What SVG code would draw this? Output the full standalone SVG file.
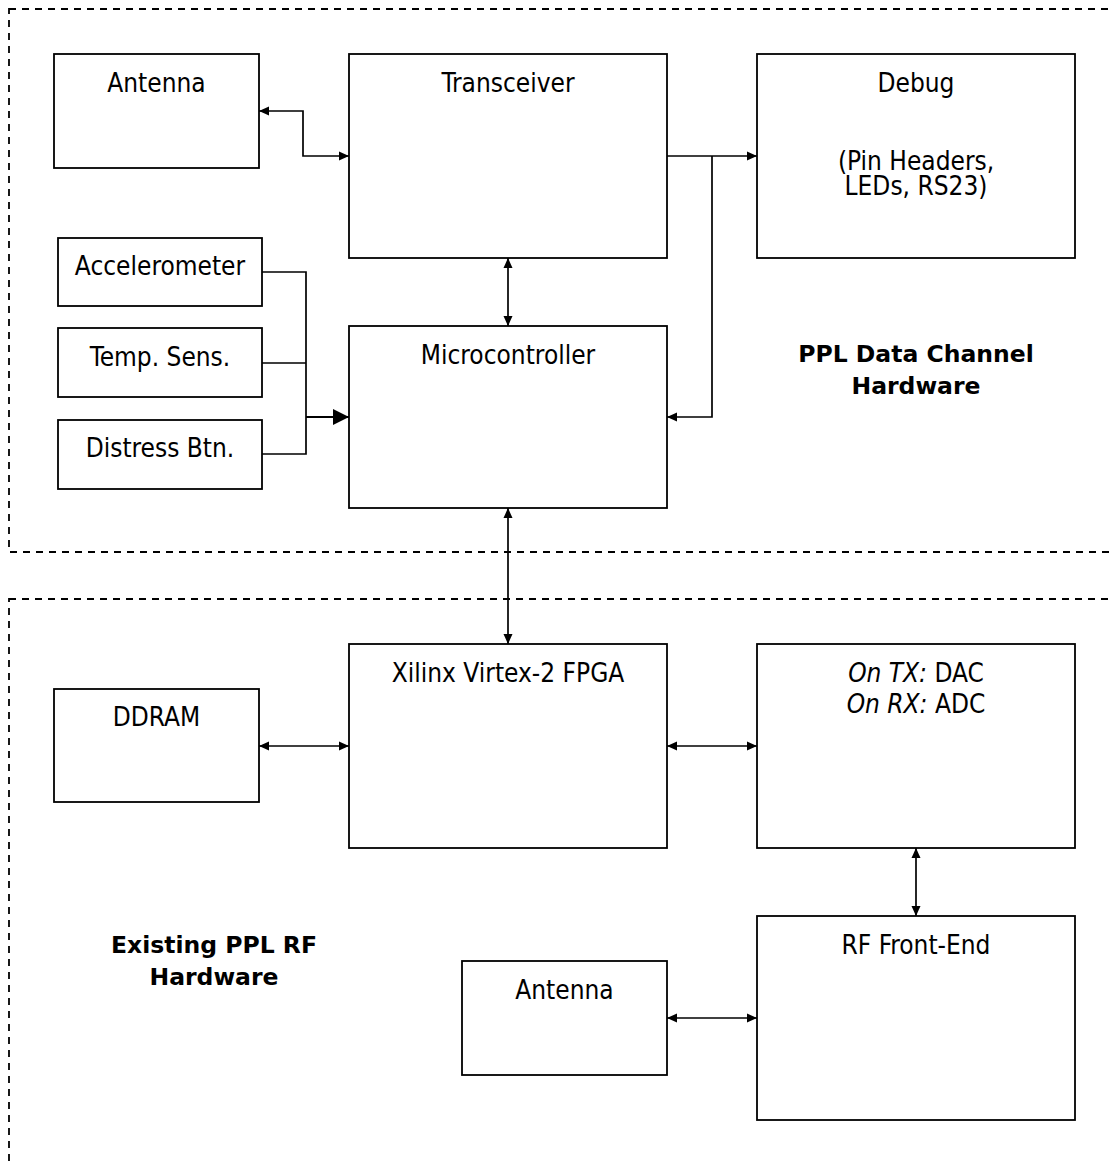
<svg xmlns="http://www.w3.org/2000/svg" width="1112" height="1162" viewBox="0 0 1112 1162">
  <style>
    .box { fill: #ffffff; stroke: #000000; stroke-width: 1.8; }
    .region { fill: none; stroke: #000000; stroke-width: 1.8; stroke-dasharray: 7 6; }
    .wire { fill: none; stroke: #000000; stroke-width: 1.7; }
    .wire-bold { fill: none; stroke: #000000; stroke-width: 2.2; }
    .lbl { font-family: "DejaVu Sans Condensed", "DejaVu Sans", sans-serif; font-stretch: condensed; font-size: 26px; fill: #000000; text-anchor: middle; }
    .title { font-family: "DejaVu Sans", "Liberation Sans", sans-serif; font-weight: bold; font-size: 23.5px; fill: #000000; text-anchor: middle; }
    .it { font-style: italic; }
  </style>
  <defs>
    <marker id="arr" markerUnits="userSpaceOnUse" markerWidth="10" markerHeight="10" viewBox="0 0 10 9" refX="10" refY="4.5" orient="auto-start-reverse">
      <path d="M0,0 L10,4.5 L0,9 z" fill="#000000"/>
    </marker>
    <marker id="arr-big" markerUnits="userSpaceOnUse" markerWidth="16" markerHeight="16" viewBox="0 0 16 16" refX="16" refY="8" orient="auto">
      <path d="M0,0 L16,8 L0,16 z" fill="#000000"/>
    </marker>
  </defs>

  <!-- dashed region outlines -->
  <g id="regions">
    <rect class="region" x="9" y="9" width="1130" height="543"/>
    <rect class="region" x="9" y="599" width="1130" height="620"/>
  </g>

  <!-- connectors -->
  <g id="connectors">
    <path class="wire" d="M259,111 H303 V156 H349" marker-start="url(#arr)" marker-end="url(#arr)"/>
    <path class="wire" d="M667,156 H757" marker-end="url(#arr)"/>
    <path class="wire" d="M712,156 V417 H667" marker-end="url(#arr)"/>
    <path class="wire" d="M508,258 V326" marker-start="url(#arr)" marker-end="url(#arr)"/>
    <path class="wire" d="M262,272 H306 V454 H262 M262,363 H306"/>
    <path class="wire-bold" d="M306,417 H349" marker-end="url(#arr-big)"/>
    <path class="wire" d="M508,508 V644" marker-start="url(#arr)" marker-end="url(#arr)"/>
    <path class="wire" d="M259,746 H349" marker-start="url(#arr)" marker-end="url(#arr)"/>
    <path class="wire" d="M667,746 H757" marker-start="url(#arr)" marker-end="url(#arr)"/>
    <path class="wire" d="M916,848 V916" marker-start="url(#arr)" marker-end="url(#arr)"/>
    <path class="wire" d="M667,1018 H757" marker-start="url(#arr)" marker-end="url(#arr)"/>
  </g>

  <!-- data channel hardware -->
  <g id="antenna-top">
    <rect class="box" x="54" y="54" width="205" height="114"/>
    <text class="lbl" x="156.5" y="92">Antenna</text>
  </g>
  <g id="transceiver">
    <rect class="box" x="349" y="54" width="318" height="204"/>
    <text class="lbl" x="508" y="92">Transceiver</text>
  </g>
  <g id="debug">
    <rect class="box" x="757" y="54" width="318" height="204"/>
    <text class="lbl" x="916" y="92">Debug</text>
    <text class="lbl" x="916" y="170">(Pin Headers,</text>
    <text class="lbl" x="916" y="195">LEDs, RS23)</text>
  </g>
  <g id="accelerometer">
    <rect class="box" x="58" y="238" width="204" height="68"/>
    <text class="lbl" x="160" y="275">Accelerometer</text>
  </g>
  <g id="temp-sens">
    <rect class="box" x="58" y="328" width="204" height="69"/>
    <text class="lbl" x="160" y="366">Temp. Sens.</text>
  </g>
  <g id="distress-btn">
    <rect class="box" x="58" y="420" width="204" height="69"/>
    <text class="lbl" x="160" y="457">Distress Btn.</text>
  </g>
  <g id="microcontroller">
    <rect class="box" x="349" y="326" width="318" height="182"/>
    <text class="lbl" x="508" y="364">Microcontroller</text>
  </g>
  <g id="data-channel-label">
    <text class="title" x="916" y="362">PPL Data Channel</text>
    <text class="title" x="916" y="394">Hardware</text>
  </g>

  <!-- existing RF hardware -->
  <g id="ddram">
    <rect class="box" x="54" y="689" width="205" height="113"/>
    <text class="lbl" x="156.5" y="726">DDRAM</text>
  </g>
  <g id="fpga">
    <rect class="box" x="349" y="644" width="318" height="204"/>
    <text class="lbl" x="508" y="682">Xilinx Virtex-2 FPGA</text>
  </g>
  <g id="converter">
    <rect class="box" x="757" y="644" width="318" height="204"/>
    <text class="lbl" x="916" y="682"><tspan class="it">On TX:</tspan> DAC</text>
    <text class="lbl" x="916" y="713"><tspan class="it">On RX:</tspan> ADC</text>
  </g>
  <g id="rf-front-end">
    <rect class="box" x="757" y="916" width="318" height="204"/>
    <text class="lbl" x="916" y="954">RF Front-End</text>
  </g>
  <g id="antenna-bottom">
    <rect class="box" x="462" y="961" width="205" height="114"/>
    <text class="lbl" x="564.5" y="999">Antenna</text>
  </g>
  <g id="rf-label">
    <text class="title" x="214" y="953">Existing PPL RF</text>
    <text class="title" x="214" y="985">Hardware</text>
  </g>
</svg>
